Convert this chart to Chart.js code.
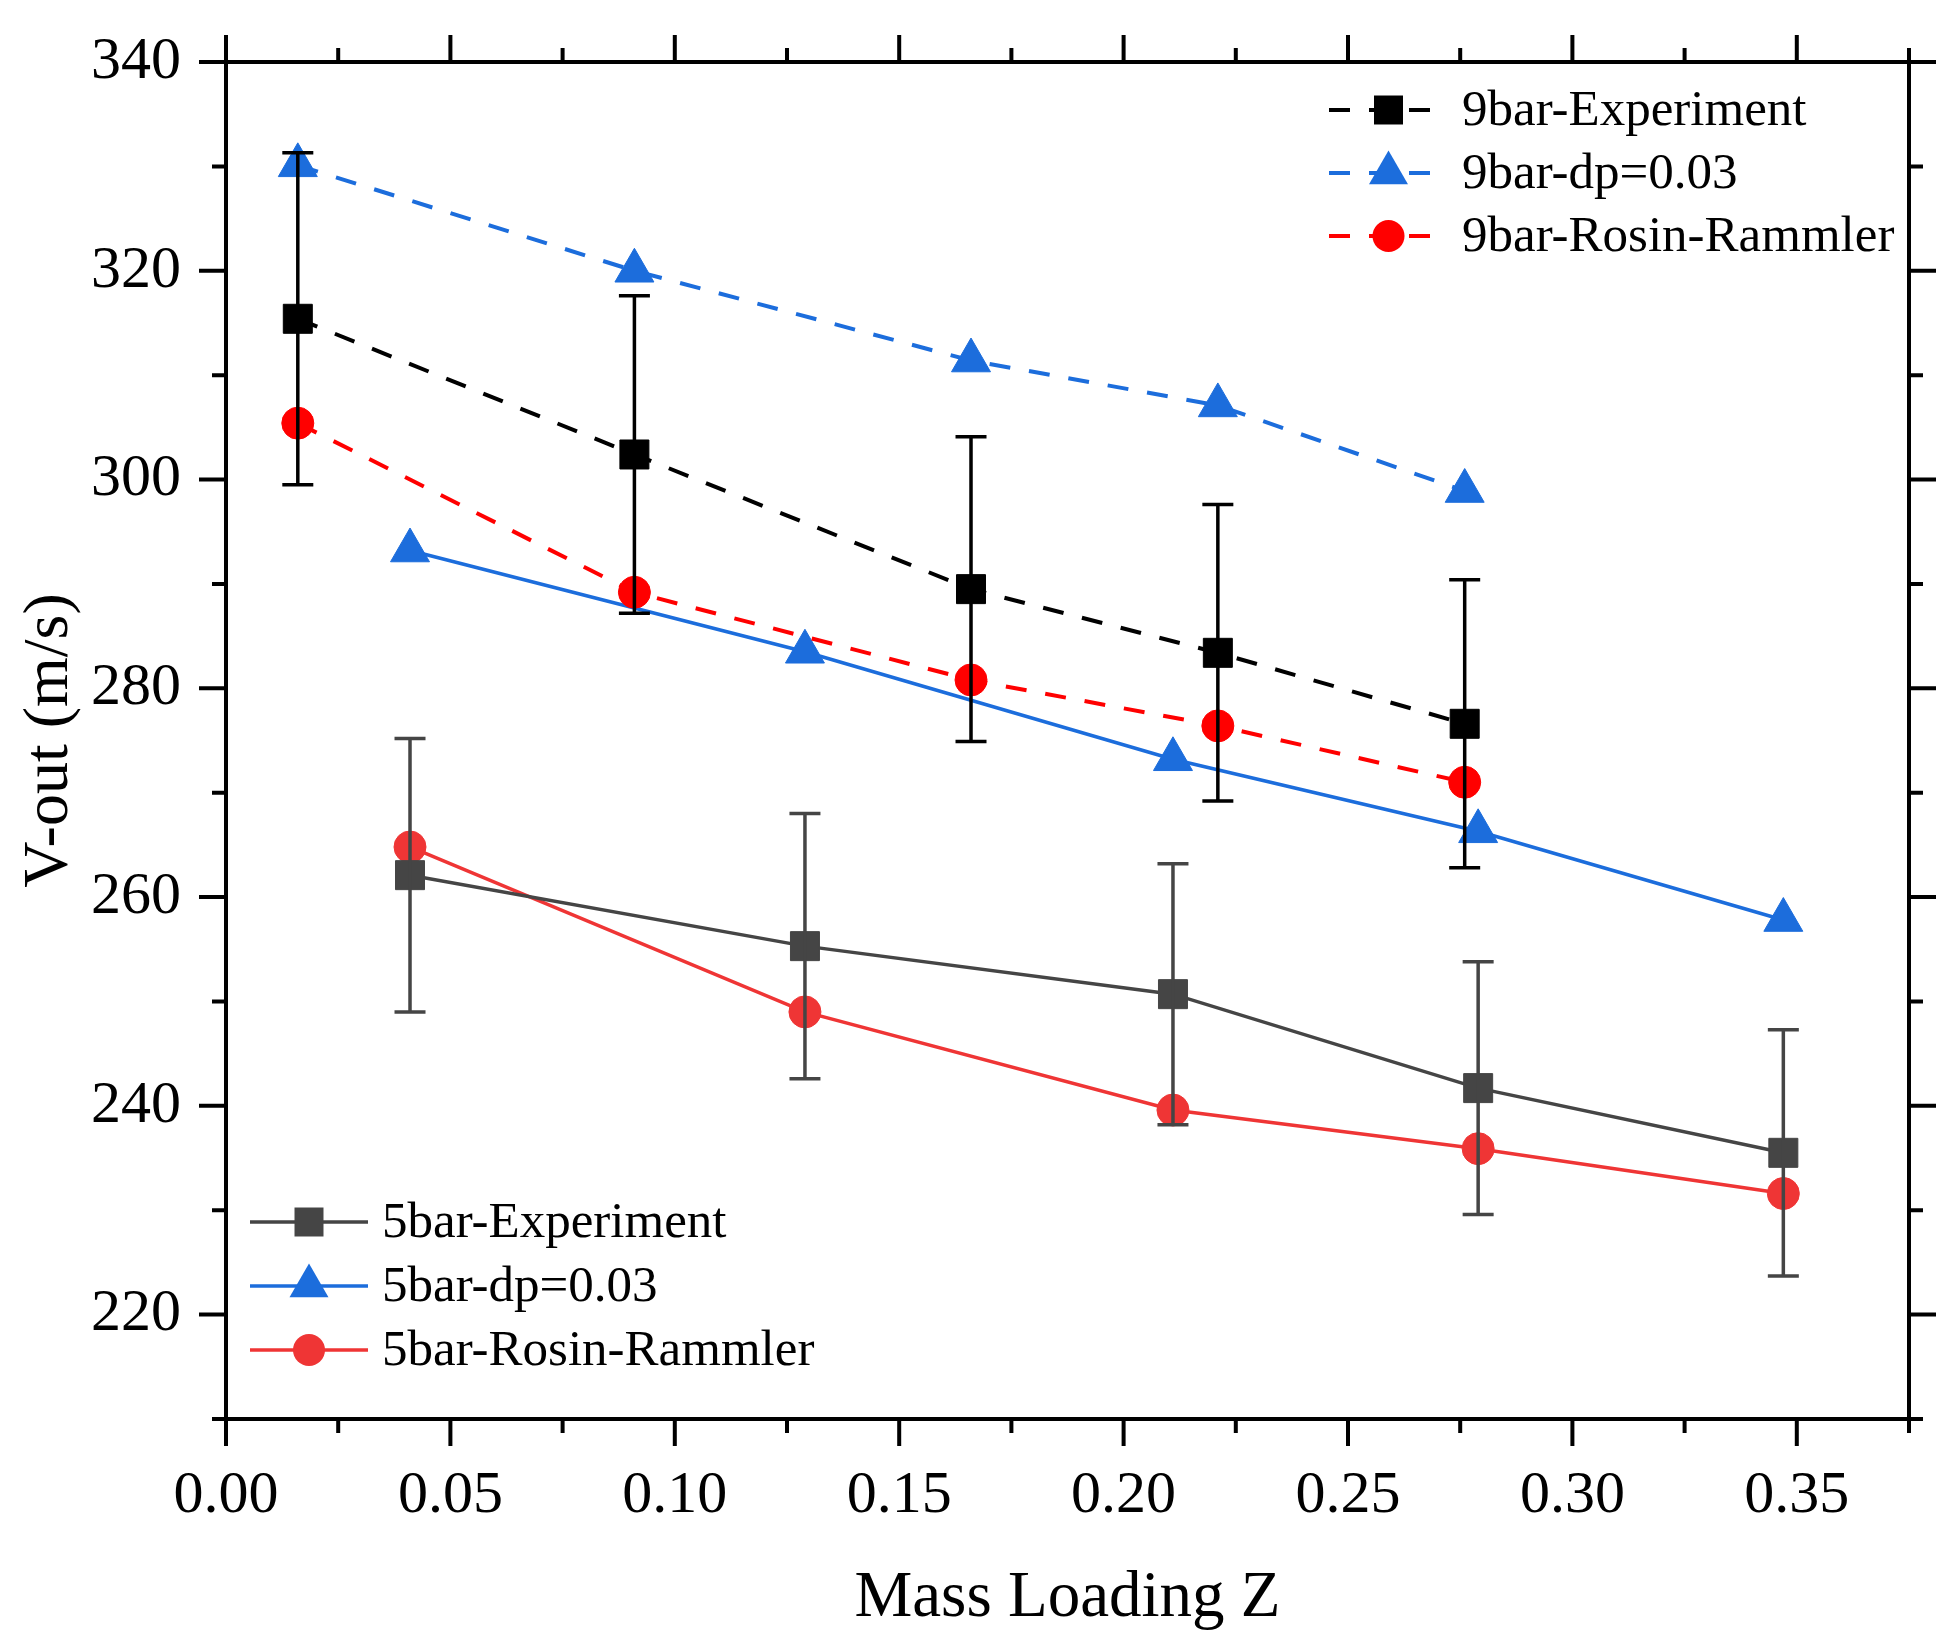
<!DOCTYPE html>
<html>
<head>
<meta charset="utf-8">
<title>V-out vs Mass Loading Z</title>
<script src="https://cdn.jsdelivr.net/npm/chart.js@4.4.1/dist/chart.umd.min.js"></script>
<style>
  html, body { margin: 0; padding: 0; background: #fff; }
  #chart { display: block; }
</style>
</head>
<body>
<canvas id="chart" width="1957" height="1648"></canvas>
<script>
// mass loading Z for the two pressure levels
const z9 = [0.016, 0.091, 0.166, 0.221, 0.276];
const z5 = [0.041, 0.129, 0.211, 0.279, 0.347];

// V-out (m/s)
const exp9 = [315.4, 302.4, 289.5, 283.4, 276.6];
const exp9Err = [15.9, 15.2, 14.6, 14.2, 13.8];
const dp9 = [330.1, 320.0, 311.4, 307.1, 298.9];
const rr9 = [305.4, 289.2, 280.8, 276.4, 271.0];

const exp5 = [262.1, 255.3, 250.7, 241.7, 235.5];
const exp5Err = [13.1, 12.7, 12.5, 12.1, 11.8];
const dp5 = [293.2, 283.5, 273.2, 266.3, 257.8];
const rr5 = [264.8, 249.0, 239.6, 235.9, 231.6];

const xTicks = [0, 0.05, 0.10, 0.15, 0.20, 0.25, 0.30, 0.35];
const yTicks = [220, 240, 260, 280, 300, 320, 340];

const BLACK = '#000000';
const GRAY = '#454545';
const BLUE = '#1c6ddc';
const RED = '#ff0000';
const RED5 = '#ef3535';
const FONT = "'Liberation Serif', 'Times New Roman', serif";
const DASH = [21, 19];

const SIZES = { rect: 20.5, circle: 16, triangle: 22.5 };

function points(xs, ys) {
  return xs.map((x, i) => ({ x: x, y: ys[i] }));
}

function series(label, xs, ys, color, style, dashed, err, errColor) {
  return {
    label: label,
    data: points(xs, ys),
    borderColor: color,
    backgroundColor: color,
    borderWidth: dashed ? 4 : 3.5,
    borderDash: dashed ? DASH : [],
    pointStyle: style,
    pointRadius: SIZES[style],
    pointHoverRadius: SIZES[style],
    pointBackgroundColor: color,
    pointBorderColor: color,
    pointBorderWidth: 1,
    tension: 0,
    fill: false,
    errors: err || null,
    errorColor: errColor || color,
  };
}

function drawMarker(ctx, style, x, y, color) {
  const r = SIZES[style];
  ctx.fillStyle = color;
  ctx.beginPath();
  if (style === 'rect') {
    const s = r * Math.SQRT1_2;
    ctx.rect(x - s, y - s, 2 * s, 2 * s);
  } else if (style === 'circle') {
    ctx.arc(x, y, r, 0, Math.PI * 2);
  } else {
    const c = r * Math.cos(Math.PI / 6);
    ctx.moveTo(x, y - r);
    ctx.lineTo(x + c, y + r / 2);
    ctx.lineTo(x - c, y + r / 2);
    ctx.closePath();
  }
  ctx.fill();
}

// vertical error bars with caps, drawn through the scales
const errorBars = {
  id: 'errorBars',
  afterDatasetsDraw(chart) {
    const { ctx, scales: { x, y } } = chart;
    ctx.save();
    chart.data.datasets.forEach(ds => {
      if (!ds.errors) return;
      ctx.strokeStyle = ds.errorColor;
      ctx.lineWidth = 3.5;
      ds.data.forEach((p, i) => {
        const px = x.getPixelForValue(p.x);
        const top = y.getPixelForValue(p.y + ds.errors[i]);
        const bot = y.getPixelForValue(p.y - ds.errors[i]);
        ctx.beginPath();
        ctx.moveTo(px, top);
        ctx.lineTo(px, bot);
        ctx.moveTo(px - 15.5, top);
        ctx.lineTo(px + 15.5, top);
        ctx.moveTo(px - 15.5, bot);
        ctx.lineTo(px + 15.5, bot);
        ctx.stroke();
      });
    });
    ctx.restore();
  }
};

// box frame with outward major/minor ticks on all four sides
const frameTicks = {
  id: 'frameTicks',
  afterDraw(chart) {
    const { ctx, chartArea: a, scales: { x, y } } = chart;
    ctx.save();
    ctx.strokeStyle = '#000';
    ctx.lineWidth = 4;
    ctx.strokeRect(a.left, a.top, a.right - a.left, a.bottom - a.top);

    const xStep = xTicks[1] - xTicks[0];
    const yStep = yTicks[1] - yTicks[0];
    const xt = [];
    xTicks.forEach(v => {
      xt.push([v, 27]);
      if (v + xStep / 2 <= x.max + 1e-9) xt.push([v + xStep / 2, 14]);
    });
    const yt = [];
    yTicks.forEach(v => {
      yt.push([v, 27]);
      if (v - yStep / 2 >= y.min - 1e-9) yt.push([v - yStep / 2, 14]);
    });

    ctx.beginPath();
    xt.forEach(([v, len]) => {
      const px = x.getPixelForValue(v);
      ctx.moveTo(px, a.bottom);
      ctx.lineTo(px, a.bottom + len);
      ctx.moveTo(px, a.top);
      ctx.lineTo(px, a.top - len);
    });
    yt.forEach(([v, len]) => {
      const py = y.getPixelForValue(v);
      ctx.moveTo(a.left, py);
      ctx.lineTo(a.left - len, py);
      ctx.moveTo(a.right, py);
      ctx.lineTo(a.right + len, py);
    });
    ctx.stroke();
    ctx.restore();
  }
};

// two legend groups like the original figure
const groupLegend = {
  id: 'groupLegend',
  afterDraw(chart, args, opts) {
    const ctx = chart.ctx;
    ctx.save();
    ctx.font = '51px ' + FONT;
    ctx.textBaseline = 'middle';
    ctx.textAlign = 'left';
    opts.groups.forEach(g => {
      g.items.forEach((idx, row) => {
        const ds = chart.data.datasets[idx];
        const cy = g.y + row * g.rowGap;
        ctx.strokeStyle = ds.borderColor;
        ctx.lineWidth = ds.borderWidth;
        ctx.setLineDash(ds.borderDash);
        ctx.beginPath();
        ctx.moveTo(g.x, cy);
        ctx.lineTo(g.x + g.lineLen, cy);
        ctx.stroke();
        ctx.setLineDash([]);
        drawMarker(ctx, ds.pointStyle, g.x + g.lineLen / 2, cy, ds.pointBackgroundColor);
        ctx.fillStyle = '#000';
        ctx.fillText(ds.label, g.x + g.lineLen + 14, cy + 2);
      });
    });
    ctx.restore();
  }
};

const datasets = [
  series('9bar-Experiment', z9, exp9, BLACK, 'rect', true, exp9Err, BLACK),
  series('9bar-dp=0.03', z9, dp9, BLUE, 'triangle', true),
  series('9bar-Rosin-Rammler', z9, rr9, RED, 'circle', true),
  series('5bar-Experiment', z5, exp5, GRAY, 'rect', false, exp5Err, GRAY),
  series('5bar-dp=0.03', z5, dp5, BLUE, 'triangle', false),
  series('5bar-Rosin-Rammler', z5, rr5, RED5, 'circle', false),
];

new Chart(document.getElementById('chart'), {
  type: 'line',
  data: { datasets: datasets },
  options: {
    responsive: false,
    animation: false,
    layout: { autoPadding: false, padding: { top: 62, right: 48, left: 0, bottom: 0 } },
    plugins: {
      legend: { display: false },
      tooltip: { enabled: false },
      groupLegend: {
        groups: [
          { x: 1329, y: 110, rowGap: 63, lineLen: 119, items: [0, 1, 2] },
          { x: 250, y: 1222, rowGap: 64, lineLen: 118, items: [3, 4, 5] },
        ],
      },
    },
    scales: {
      x: {
        type: 'linear',
        min: 0,
        max: 0.375,
        afterBuildTicks: s => { s.ticks = xTicks.map(v => ({ value: v })); },
        afterFit: s => { s.height = 229; s.paddingRight = 0; },
        grid: { display: false, drawTicks: false },
        border: { display: false },
        ticks: {
          padding: 41,
          color: '#000',
          font: { family: FONT, size: 60 },
          maxRotation: 0,
          autoSkip: false,
          callback: v => Number(v).toFixed(2),
        },
        title: {
          display: true,
          text: 'Mass Loading Z',
          color: '#000',
          font: { family: FONT, size: 65 },
          padding: { top: 0, bottom: 10 },
        },
      },
      y: {
        type: 'linear',
        min: 210,
        max: 340,
        afterBuildTicks: s => { s.ticks = yTicks.map(v => ({ value: v })); },
        afterFit: s => { s.width = 226; s.paddingTop = 0; s.paddingBottom = 0; },
        grid: { display: false, drawTicks: false },
        border: { display: false },
        ticks: {
          padding: 45,
          color: '#000',
          font: { family: FONT, size: 60 },
          autoSkip: false,
        },
        title: {
          display: true,
          text: 'V-out (m/s)',
          color: '#000',
          font: { family: FONT, size: 64 },
          padding: { top: 12, bottom: 0 },
        },
      },
    },
  },
  plugins: [errorBars, frameTicks, groupLegend],
});
</script>
</body>
</html>
